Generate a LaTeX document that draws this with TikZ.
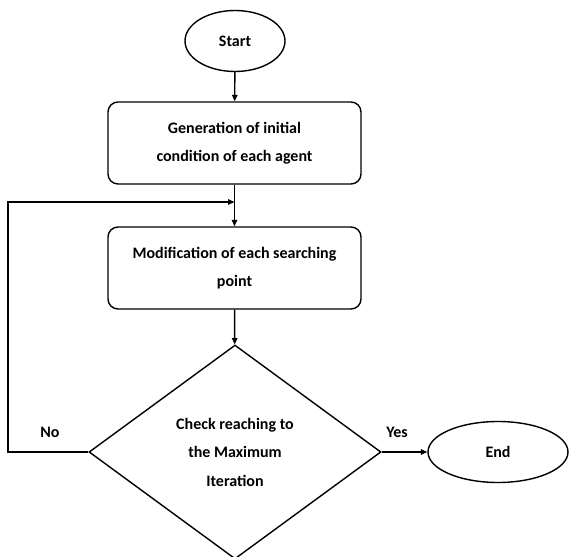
\documentclass[tikz,border=0pt]{standalone}
\usepackage{fontspec}
\setmainfont{Carlito}
\usetikzlibrary{shapes.geometric,arrows.meta}
\begin{document}
\begin{tikzpicture}[x=1pt,y=-1pt,
  every node/.style={font=\bfseries\fontsize{16}{28.5}\selectfont, align=center},
  shp/.style={draw, line width=1.4pt, inner sep=0pt},
  term/.style={shp, ellipse},
  proc/.style={shp, rectangle, rounded corners=10pt, minimum width=253pt, minimum height=82pt},
  decis/.style={shp, diamond, minimum width=292pt, minimum height=214pt},
  conn/.style={line width=1.4pt, -{Triangle[length=6.5pt,width=5.5pt]}},
  lbl/.style={font=\bfseries\fontsize{16}{18}\selectfont}]
\useasboundingbox (0,0) rectangle (571,557);
\node[term, minimum width=100pt, minimum height=61pt] (start) at (235,41) {Start};
\node[proc] (gen) at (234.5,143) {Generation of initial\\condition of each agent};
\node[proc] (mod) at (234.5,268) {Modification of each searching\\point};
\node[decis] (chk) at (235,452) {Check reaching to\\the Maximum\\Iteration};
\node[term, minimum width=140pt, minimum height=61pt] (end) at (498,452) {End};
\coordinate (lc) at (8,202);
\coordinate (jn) at (234.5,202);
\draw[conn] (start) -- (gen);
\draw[conn] (gen) -- (mod);
\draw[conn] (mod) -- (chk);
\draw[conn] (chk.east) -- (end);
\draw[conn] (chk.west) -| (lc) -- (jn);
\node[lbl] (no) at (50,432) {No};
\node[lbl] (yes) at (397,432) {Yes};
\end{tikzpicture}
\end{document}
